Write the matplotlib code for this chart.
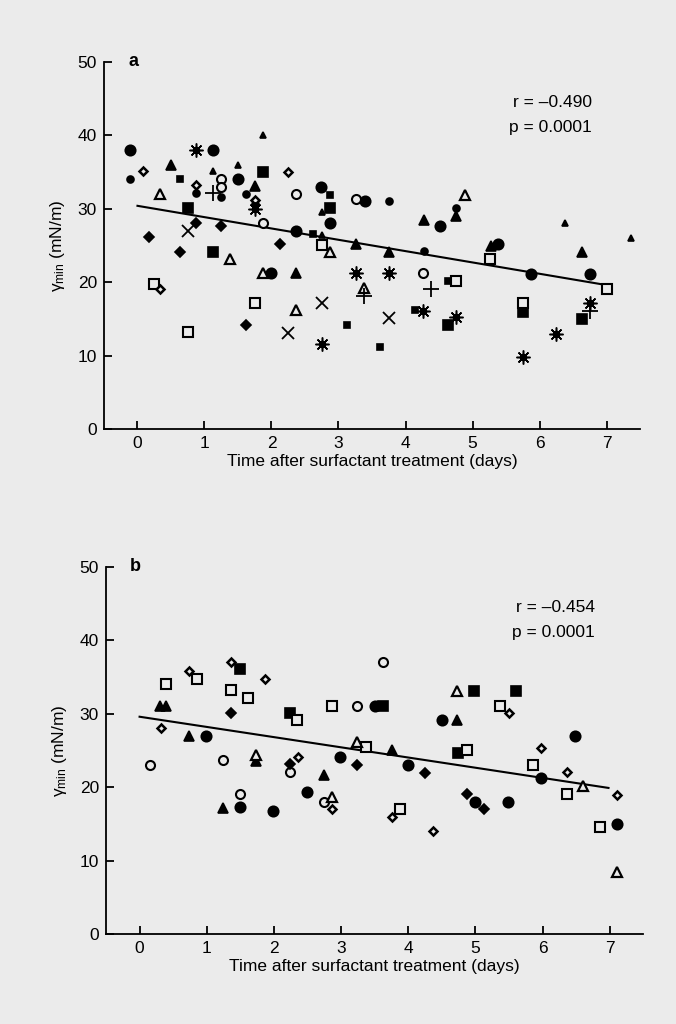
import numpy as np
import matplotlib
matplotlib.use("Agg")
import matplotlib.pyplot as plt

plt.rcParams["font.family"] = ["Liberation Sans", "DejaVu Sans"]
plt.rcParams["mathtext.fontset"] = "dejavusans"

BG = "#ebebeb"

# ---- panel a data (x = days, y = gamma_min in mN/m) ----
a_circ_big_x = [-0.11, 1.13, 1.50, 2.37, 2.00, 2.74, 3.39, 2.88, 4.52, 5.38, 5.88, 6.75]
a_circ_big_y = [38.0, 38.0, 34.1, 27.0, 21.2, 33.0, 31.0, 28.0, 27.6, 25.2, 21.1, 21.1]
a_circ_small_x = [-0.11, 0.88, 1.25, 1.62, 1.75, 3.76, 4.76, 4.27]
a_circ_small_y = [34.1, 32.1, 31.6, 32.0, 30.6, 31.0, 30.1, 24.3]
a_ocirc_x = [1.25, 1.25, 2.37, 1.87, 3.26, 4.26]
a_ocirc_y = [34.0, 33.0, 32.0, 28.1, 31.3, 21.2]
a_sq_big_x = [0.75, 1.87, 1.13, 2.88, 4.64, 5.76, 6.63]
a_sq_big_y = [30.1, 35.0, 24.1, 30.1, 14.1, 16.0, 15.0]
a_sq_small_x = [0.63, 2.88, 2.62, 3.12, 3.62, 4.14, 4.64]
a_sq_small_y = [34.1, 31.9, 26.6, 14.2, 11.1, 16.2, 20.1]
a_osq_x = [0.24, 1.75, 0.75, 2.75, 4.76, 5.26, 7.00, 5.76]
a_osq_y = [19.7, 17.2, 13.2, 25.1, 20.1, 23.1, 19.0, 17.1]
a_tri_big_x = [0.50, 1.75, 4.27, 4.76, 5.28, 6.63, 2.37, 3.26, 3.76]
a_tri_big_y = [36.0, 33.1, 28.5, 29.0, 24.9, 24.1, 21.2, 25.2, 24.1]
a_tri_small_x = [1.13, 1.50, 1.87, 2.75, 2.75, 6.38, 7.37]
a_tri_small_y = [35.1, 36.0, 40.0, 29.5, 26.4, 28.1, 26.0]
a_otri_x = [0.34, 1.38, 1.87, 2.37, 2.88, 3.38, 4.89]
a_otri_y = [32.0, 23.1, 21.2, 16.2, 24.1, 19.2, 31.9]
a_dia_x = [0.88, 1.25, 0.17, 2.12, 0.63, 1.62]
a_dia_y = [28.1, 27.7, 26.1, 25.2, 24.1, 14.2]
a_odia_x = [0.08, 0.88, 2.25, 1.75, 0.33]
a_odia_y = [35.1, 33.2, 35.0, 31.2, 19.1]
a_star_x = [0.88, 1.75, 3.26, 3.76, 4.26, 4.75, 2.75, 5.76, 6.25, 6.75]
a_star_y = [38.0, 30.0, 21.2, 21.2, 16.1, 15.2, 11.6, 9.8, 13.0, 17.1]
a_plus_x = [1.13, 3.38, 4.38, 6.75]
a_plus_y = [32.1, 18.1, 19.1, 16.1]
a_cross_x = [0.75, 2.25, 2.75, 3.76]
a_cross_y = [27.0, 13.1, 17.2, 15.1]
a_fit_x = [0.0, 7.0]
a_fit_y = [30.4, 19.6]
a_stats = ["r = \u20130.490", "p = 0.0001"]

# ---- panel b data ----
b_circ_x = [0.99, 1.50, 1.99, 2.49, 2.98, 3.50, 4.00, 4.50, 4.99, 5.49, 5.98, 6.48, 7.10]
b_circ_y = [27.0, 17.3, 16.8, 19.4, 24.1, 31.1, 23.0, 29.2, 18.0, 18.0, 21.3, 27.0, 15.0]
b_ocirc_x = [0.16, 1.24, 1.50, 2.24, 2.74, 3.24, 3.62]
b_ocirc_y = [23.0, 23.7, 19.1, 22.1, 18.0, 31.1, 37.1]
b_sq_x = [1.49, 2.24, 3.63, 4.74, 4.98, 5.61]
b_sq_y = [36.1, 30.1, 31.1, 24.6, 33.1, 33.1]
b_osq_x = [0.40, 0.86, 1.36, 1.61, 2.34, 2.87, 3.37, 3.88, 4.87, 5.36, 5.86, 6.36, 6.85]
b_osq_y = [34.1, 34.7, 33.2, 32.1, 29.1, 31.1, 25.5, 17.0, 25.1, 31.1, 23.0, 19.1, 14.6]
b_tri_x = [0.31, 0.40, 0.74, 1.24, 1.73, 2.74, 3.75, 4.73]
b_tri_y = [31.1, 31.1, 27.0, 17.1, 23.5, 21.6, 25.1, 29.2]
b_otri_x = [1.73, 2.87, 3.24, 4.73, 6.60, 7.10]
b_otri_y = [24.4, 18.6, 26.1, 33.1, 20.1, 8.4]
b_dia_x = [1.36, 2.24, 3.24, 4.25, 4.87, 5.12]
b_dia_y = [30.1, 23.2, 23.0, 22.0, 19.1, 17.0]
b_odia_x = [0.32, 0.74, 1.36, 1.86, 2.36, 2.87, 3.75, 4.37, 5.50, 5.98, 6.36, 7.10]
b_odia_y = [28.1, 35.8, 37.1, 34.7, 24.1, 17.0, 16.0, 14.0, 30.1, 25.3, 22.1, 19.0]
b_fit_x = [0.0, 6.98]
b_fit_y = [29.6, 19.9]
b_stats = ["r = \u20130.454", "p = 0.0001"]

x_ticks = [0, 1, 2, 3, 4, 5, 6, 7]
y_ticks = [0, 10, 20, 30, 40, 50]


def pts(ax, x, y, marker, ms, filled=True, mew=1.2):
    ax.plot(x, y, linestyle="none", marker=marker, markersize=ms,
            markerfacecolor="black" if filled else BG,
            markeredgecolor="black", markeredgewidth=mew, zorder=3)


def stars(ax, x, y):
    ax.plot(x, y, linestyle="none", marker=(8, 2, 0), markersize=10,
            markeredgecolor="black", markeredgewidth=1.1, zorder=3)
    ax.plot(x, y, linestyle="none", marker="o", markersize=4.5,
            color="black", zorder=3)


def style_axes(ax, letter, stats):
    ax.set_facecolor(BG)
    ax.set_xlim(-0.5, 7.5)
    ax.set_ylim(0, 50)
    ax.set_xticks(x_ticks)
    ax.set_yticks(y_ticks)
    for side in ("top", "right"):
        ax.spines[side].set_visible(False)
    for side in ("left", "bottom"):
        ax.spines[side].set_linewidth(1.3)
    ax.tick_params(direction="in", length=6, width=1.3, labelsize=12.5, pad=5)
    ax.set_xlabel("Time after surfactant treatment (days)", fontsize=12.5, labelpad=2)
    ax.set_ylabel(r"$\mathregular{\gamma_{min}}$ (mN/m)", fontsize=12.5, labelpad=8)
    ax.text(0.045, 1.0, letter, transform=ax.transAxes, fontsize=13,
            fontweight="bold", va="center", ha="left")
    ax.text(0.91, 0.876, stats[0], transform=ax.transAxes, fontsize=12.5, ha="right")
    ax.text(0.91, 0.808, stats[1], transform=ax.transAxes, fontsize=12.5, ha="right")


fig = plt.figure(figsize=(6.76, 10.24), dpi=100, facecolor=BG)
ax_a = fig.add_axes([0.1538, 0.5811, 0.793, 0.3584])
ax_b = fig.add_axes([0.1568, 0.0879, 0.795, 0.3584])

# panel a
ax_a.plot(a_fit_x, a_fit_y, color="black", linewidth=1.5, zorder=2)
pts(ax_a, a_circ_big_x, a_circ_big_y, "o", 7.5)
pts(ax_a, a_circ_small_x, a_circ_small_y, "o", 5)
pts(ax_a, a_ocirc_x, a_ocirc_y, "o", 6.5, filled=False, mew=1.5)
pts(ax_a, a_sq_big_x, a_sq_big_y, "s", 7)
pts(ax_a, a_sq_small_x, a_sq_small_y, "s", 4.5)
pts(ax_a, a_osq_x, a_osq_y, "s", 7, filled=False, mew=1.5)
pts(ax_a, a_tri_big_x, a_tri_big_y, "^", 7)
pts(ax_a, a_tri_small_x, a_tri_small_y, "^", 5)
pts(ax_a, a_otri_x, a_otri_y, "^", 6.5, filled=False, mew=1.6)
pts(ax_a, a_dia_x, a_dia_y, "D", 5.5)
pts(ax_a, a_odia_x, a_odia_y, "D", 4.5, filled=False, mew=1.8)
stars(ax_a, a_star_x, a_star_y)
pts(ax_a, a_plus_x, a_plus_y, "+", 11, mew=1.3)
pts(ax_a, a_cross_x, a_cross_y, "x", 8, mew=1.3)
style_axes(ax_a, "a", a_stats)

# panel b
ax_b.plot(b_fit_x, b_fit_y, color="black", linewidth=1.5, zorder=2)
pts(ax_b, b_circ_x, b_circ_y, "o", 7.5)
pts(ax_b, b_ocirc_x, b_ocirc_y, "o", 6.5, filled=False, mew=1.5)
pts(ax_b, b_sq_x, b_sq_y, "s", 7)
pts(ax_b, b_osq_x, b_osq_y, "s", 7, filled=False, mew=1.5)
pts(ax_b, b_tri_x, b_tri_y, "^", 7)
pts(ax_b, b_otri_x, b_otri_y, "^", 6.5, filled=False, mew=1.6)
pts(ax_b, b_dia_x, b_dia_y, "D", 5.5)
pts(ax_b, b_odia_x, b_odia_y, "D", 4.5, filled=False, mew=1.8)
style_axes(ax_b, "b", b_stats)

fig.savefig("out.png", dpi=100, facecolor=BG)
